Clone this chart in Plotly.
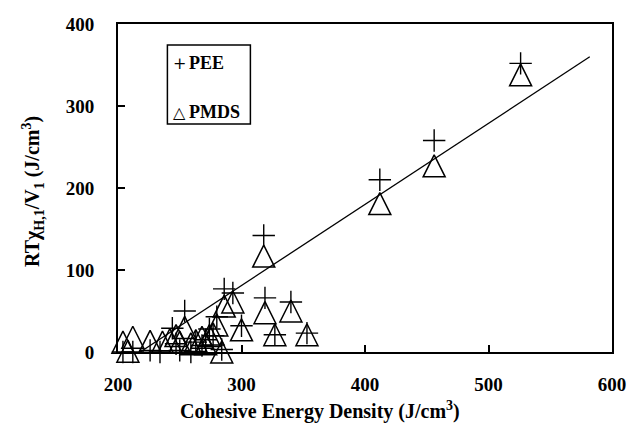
import plotly.graph_objects as go

# Cohesive energy density (J/cm^3) of the solvents and interaction energy RT*chi/V1 (J/cm^3)
ced_pee = [204, 212, 226, 234, 244, 247, 250, 254, 259, 263, 268, 271, 274, 277,
           280, 284, 286, 293, 300, 318, 319, 327, 340, 353, 412, 456, 526]
pee = [0, 0, 2, 0, 29, 10, 2, 50, 0, 12, 8, 15, 28, 20,
       43, 3, 77, 72, 32, 142, 66, 21, 61, 23, 210, 258, 352]

ced_pmds = [204, 208, 212, 226, 236, 242, 247, 250, 254, 259, 263, 268, 271, 274,
            277, 280, 284, 286, 293, 300, 318, 319, 327, 340, 353, 412, 456, 526]
pmds = [12, 1, 18, 13, 12, 15, 20, 12, 30, 10, 14, 18, 10, 20,
        22, 33, 0, 56, 61, 27, 117, 48, 21, 50, 21, 181, 227, 338]

# trend line end points
line_x = [218, 582]
line_y = [0, 360]

x_ticks = [200, 300, 400, 500, 600]
y_ticks = [0, 100, 200, 300, 400]

W, H = 638, 429
M_L, M_R, M_T, M_B = 118, 20, 24, 77
plot_w = W - M_L - M_R
plot_h = H - M_T - M_B
y_range = [0, 400]

# triangle markers (arrow-up) have their apex on the point; raise the overlay
# axis by half the marker height so each triangle is centred on its value
tri_size = 22
shift = (tri_size / 2) * (y_range[1] - y_range[0]) / plot_h

SERIF = "'Liberation Serif', 'Times New Roman', 'DejaVu Serif', serif"

fig = go.Figure()

fig.add_trace(go.Scatter(
    x=line_x, y=line_y, mode="lines", name="fit",
    line=dict(color="black", width=1.3), showlegend=False,
))

fig.add_trace(go.Scatter(
    x=ced_pee, y=pee, mode="markers", name="PEE", cliponaxis=False,
    marker=dict(symbol="cross-thin-open", size=16, color="black",
                line=dict(color="black", width=1.4)),
    showlegend=False,
))

fig.add_trace(go.Scatter(
    x=ced_pmds, y=pmds, mode="markers", name="PMDS", yaxis="y2", cliponaxis=False,
    marker=dict(symbol="arrow-up-open", size=tri_size, color="black",
                line=dict(color="black", width=1.5)),
    showlegend=False,
))

axis_common = dict(
    showline=True, linecolor="black", linewidth=2, mirror=True,
    showgrid=False, zeroline=False,
    ticks="inside", ticklen=7, tickwidth=2, tickcolor="black",
    tickfont=dict(family=SERIF, size=19, color="black", weight="bold"),
)

fig.update_layout(
    width=W, height=H,
    margin=dict(l=M_L, r=M_R, t=M_T, b=M_B),
    paper_bgcolor="white", plot_bgcolor="white",
    showlegend=False,
    xaxis=dict(range=[200, 600], tickvals=x_ticks, ticklabelstandoff=14, **axis_common),
    yaxis=dict(range=y_range, tickvals=y_ticks, ticklabelstandoff=18, **axis_common),
    yaxis2=dict(range=[y_range[0] - shift, y_range[1] - shift], overlaying="y",
                visible=False),
)


def px_x(p):
    return (p - M_L) / plot_w


def px_y(p):
    return (H - M_B - p) / plot_h


# axis titles
fig.add_annotation(
    text="Cohesive Energy Density (J/cm<sup>3</sup>)",
    xref="paper", yref="paper", x=px_x(322), y=px_y(410),
    xanchor="center", yanchor="middle", showarrow=False,
    font=dict(family=SERIF, size=20, color="black", weight="bold"),
)
fig.add_annotation(
    text="RT\u03c7<sub>H,1</sub>/V<sub>1</sub> (J/cm<sup>3</sup>)",
    xref="paper", yref="paper", x=px_x(32), y=px_y(192),
    xanchor="center", yanchor="middle", textangle=-90, showarrow=False,
    font=dict(family=SERIF, size=20, color="black", weight="bold"),
)

# legend box
fig.add_shape(type="rect", xref="paper", yref="paper",
              x0=px_x(168), x1=px_x(252), y0=px_y(124), y1=px_y(45),
              line=dict(color="black", width=1.5), fillcolor="white")
for glyph, label, yc in [("+", "PEE", 63), ("\u25b3", "PMDS", 112)]:
    fig.add_annotation(text=glyph, xref="paper", yref="paper",
                       x=px_x(180), y=px_y(yc), xanchor="center", yanchor="middle",
                       showarrow=False,
                       font=dict(family="DejaVu Serif", size=16, color="black"))
    fig.add_annotation(text=label, xref="paper", yref="paper",
                       x=px_x(188), y=px_y(yc), xanchor="left", yanchor="middle",
                       showarrow=False,
                       font=dict(family=SERIF, size=18, color="black", weight="bold"))

fig.write_html("out.html")
